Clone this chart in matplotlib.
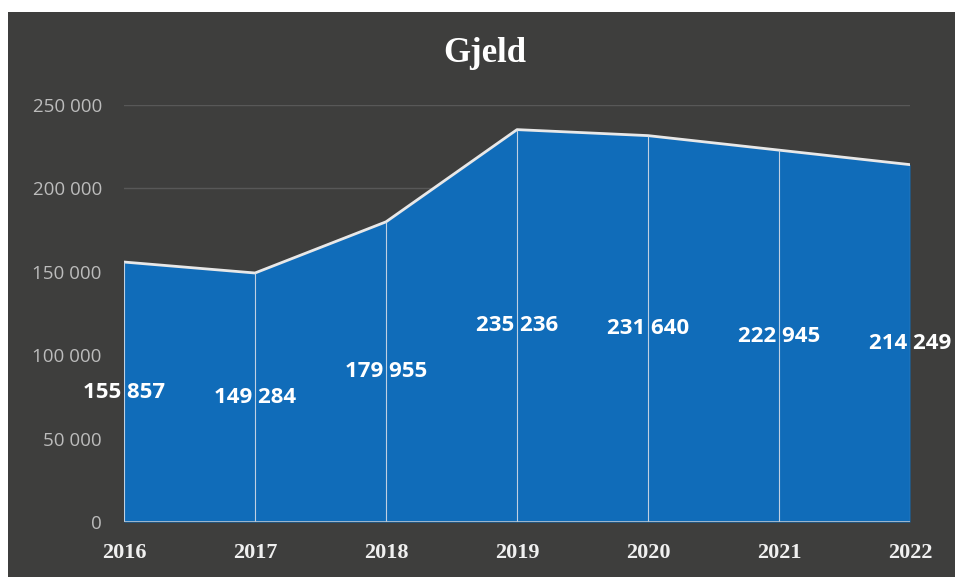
import matplotlib.pyplot as plt
from matplotlib.patches import Rectangle
import numpy as np

years = [2016, 2017, 2018, 2019, 2020, 2021, 2022]
gjeld = [155857, 149284, 179955, 235236, 231640, 222945, 214249]
yticks = [0, 50000, 100000, 150000, 200000, 250000]

bg = '#3e3e3d'
blue = '#106cb9'

def fmt(v):
	return '{:,}'.format(v).replace(',', ' ')

fig = plt.figure(figsize=(9.55, 5.77), dpi=100)
fig.patch.set_facecolor('white')
fig.patches.append(Rectangle((8/955, 0), 1, 565/577, transform=fig.transFigure,
	facecolor=bg, edgecolor='none', zorder=-5))

ax = fig.add_axes([124/955, 55/577, 786/955, 417/577])
ax.set_facecolor('none')
ax.set_zorder(2)

# gridlines
for t in yticks:
	ax.axhline(t, color='#585858', lw=1, zorder=1)

ax.fill_between(years, gjeld, 0, color=blue, zorder=2, lw=0)
ax.plot(years, gjeld, color='#e8e8e8', lw=2, zorder=3)
ax.vlines(years, 0, gjeld, color='#bfd0e2', lw=0.8, zorder=3)
ax.axhline(0, color='#b8c4d0', lw=1.2, zorder=3)

for x, v in zip(years, gjeld):
	ax.text(x, v/2, fmt(v), ha='center', va='center', color='white',
		fontsize=16, fontweight='bold', family='Open Sans', zorder=4, clip_on=False)

ax.set_xlim(2016, 2022)
ax.set_ylim(0, 250000)
ax.set_yticks(yticks)
ax.set_yticklabels([fmt(t) for t in yticks], color='#bcbcbc', fontsize=13.5, family='Open Sans')
ax.set_xticks(years)
ax.set_xticklabels([str(y) for y in years], color='#f0f0f0', fontsize=16,
	fontweight='bold', family='Liberation Serif')
ax.tick_params(axis='both', length=0)
ax.tick_params(axis='y', pad=16)
ax.tick_params(axis='x', pad=15)
for s in ax.spines.values():
	s.set_visible(False)

fig.text(485/955, 1 - 53/577, 'Gjeld', ha='center', va='center', color='white',
	fontsize=25, fontweight='bold', family='Liberation Serif')

fig.savefig('out.png', dpi=100, facecolor=fig.get_facecolor())
